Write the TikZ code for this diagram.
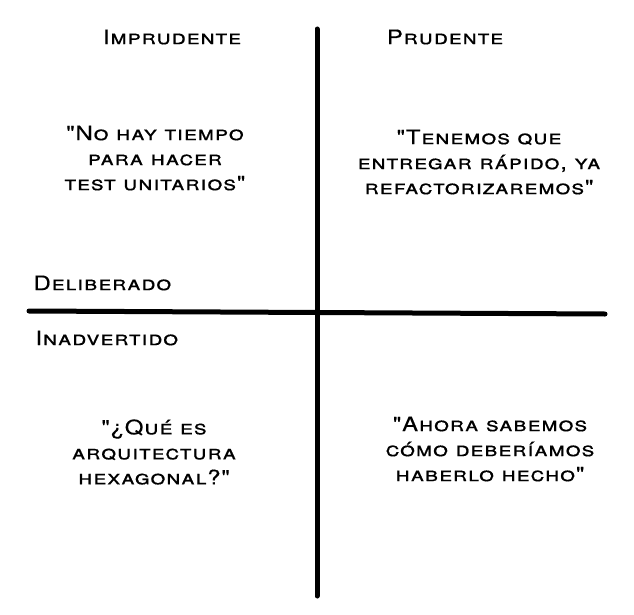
\documentclass[tikz,border=0pt]{standalone}
\usepackage{fontspec}
\newfontfamily\quadfont[Letters=SmallCaps, LetterSpace=4, FakeStretch=1.2, FakeBold=0.4]{TeX Gyre Heros}
\usetikzlibrary{positioning}

\begin{document}
\begin{tikzpicture}[x=1pt, y=-1pt, line width=5pt, line cap=round,
  txt/.style={font=\quadfont\fontsize{20}{25}\selectfont, align=center, inner sep=0pt}]

\useasboundingbox (0,0) rectangle (634,615);

% axes
\coordinate (top) at (317,29);
\coordinate (bottom) at (317,596);
\coordinate (left) at (29,311);
\coordinate (right) at (605,314);
\draw (top) -- (bottom);
\draw (left) -- (right);

% column and row titles
\node[txt] (imprudente) at (172,37) {Imprudente};
\node[txt] (prudente) at (445,37) {Prudente};
\node[txt, anchor=west] (deliberado) at (31,283) {Deliberado};
\node[txt, anchor=west] (inadvertido) at (33,338) {Inadvertido};

% quadrants
\node[txt] (q1) at (155,158) {"No hay tiempo\\para hacer\\test unitarios"};
\node[txt] (q2) at (479,162) {"Tenemos que\\entregar rápido, ya\\refactorizaremos"};
\node[txt] (q3) at (154,452) {"¿Qué es\\arquitectura\\hexagonal?"};
\node[txt] (q4) at (490,449) {"Ahora sabemos\\cómo deberíamos\\haberlo hecho"};

\end{tikzpicture}
\end{document}
